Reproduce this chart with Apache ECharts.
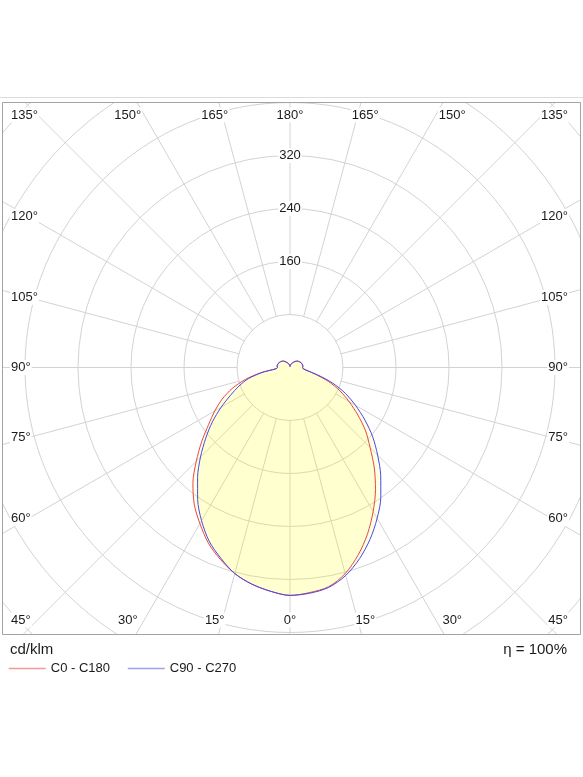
<!DOCTYPE html>
<html>
<head>
<meta charset="utf-8">
<script src="https://cdn.jsdelivr.net/npm/echarts@6/dist/echarts.min.js"></script>
<style>
html,body{margin:0;padding:0;background:#fff;}
#chart{width:583px;height:777px;}
</style>
</head>
<body>
<div id="chart"></div>
<script>
// gamma angles (degrees from nadir)
const gamma = [0,5,10,15,20,25,30,35,40,45,50,55,60,65,70,75,80,85,90,95,100,105,110,115,120,125,130,135,140,145,150,155,160,165,170,175,180];
// luminous intensity, cd/klm
const c0   = [344,341,336,322,301,277,251,225,198,171,149,125,103,83,62,40,26,20,19,19.5,19.5,19,18.5,18,17,16,15,13.5,12,10,8.5,7,6,5,3.5,2,1];
const c180 = [344,339,332,322,308,292,272,252,228,200,174,150,131,113,93,70,44,21,19,19.5,19.5,19,18.5,18,17,16,15,13.5,12,10,8.5,7,6,5,3.5,2,1];
const c90  = [344,342,337,325,307,286,263,239,213,187,163,138,114,92,68,43,26,20,19,19.5,19.5,19,18.5,18,17,16,15,13.5,12,10,8.5,7,6,5,3.5,2,1];
const c270 = [344,339,332,322,306,289,267,243,217,191,166,143,120,99,82,65,42,21,19,19.5,19.5,19,18.5,18,17,16,15,13.5,12,10,8.5,7,6,5,3.5,2,1];
const seriesNames = ['C0 - C180', 'C90 - C270'];
const radiusLabels = [160, 240, 320];
const angleTicks = [0,15,30,45,60,75,90,105,120,135,150,165,180];
const unitText = 'cd/klm';
const etaText = '\u03B7 = 100%';

const FONT = '"Liberation Sans", Arial, sans-serif';
const cx = 290, cy = 367.5, R_OUT = 424, R_IN = 53;

// right half: angle value = 180 - gamma ; left half: 180 + gamma (startAngle at top, clockwise)
function curve(right, left) {
  const pts = [];
  for (let i = gamma.length - 1; i >= 0; i--) pts.push([right[i], 180 - gamma[i]]);
  for (let i = 1; i < gamma.length; i++) pts.push([left[i], 180 + gamma[i]]);
  return pts;
}

// returns [x, y, align]
function labelPos(g, side) {
  const R = Math.PI / 180;
  const edgeX = side < 0 ? 10 : 569;
  const edgeAlign = side < 0 ? 'left' : 'right';
  if (g === 45 || g === 135) return [edgeX, g === 135 ? 115 : 620, edgeAlign];
  if (g > 135) return [cx + side * 281 * Math.tan((180 - g) * R), 115, 'center'];
  if (g < 45) return [cx + side * 281 * Math.tan(g * R), 620, 'center'];
  return [edgeX, cy - 262 * Math.tan((g - 90) * R), edgeAlign];
}

const graphics = [];
// blank disc at the centre (radial lines start at the first ring)
graphics.push({type:'circle', z:0.5, silent:true, shape:{cx:cx, cy:cy, r:R_IN - 0.5}, style:{fill:'#fff'}});
// white covers outside the frame
[[0,0,583,102],[0,635,583,142],[0,0,2,777],[581,0,2,777]].forEach(r => {
  graphics.push({type:'rect', z:99, silent:true, shape:{x:r[0],y:r[1],width:r[2],height:r[3]}, style:{fill:'#fff'}});
});
graphics.push({type:'rect', z:100, silent:true, shape:{x:2.5,y:102.5,width:578,height:532}, style:{fill:'none', stroke:'#a3a3a3', lineWidth:1}});
graphics.push({type:'line', z:100, silent:true, shape:{x1:0,y1:97.5,x2:583,y2:97.5}, style:{stroke:'#dcdcdc', lineWidth:1}});
angleTicks.forEach(g => {
  const sides = (g === 0 || g === 180) ? [1] : [-1, 1];
  sides.forEach(s => {
    const p = labelPos(g, s);
    graphics.push({type:'text', z:101, silent:true, x:p[0], y:p[1], style:{
      text: g + '\u00B0', fill:'#1a1a1a', font:'13px ' + FONT, align:p[2], verticalAlign:'middle',
      backgroundColor:'#fff', padding:[1,1]
    }});
  });
});
graphics.push({type:'text', z:101, silent:true, x:10, y:650, style:{text:unitText, fill:'#1a1a1a', font:'15px ' + FONT, align:'left', verticalAlign:'middle'}});
graphics.push({type:'text', z:101, silent:true, x:567, y:650, style:{text:etaText, fill:'#1a1a1a', font:'15px ' + FONT, align:'right', verticalAlign:'middle'}});

const chart = echarts.init(document.getElementById('chart'), null, {renderer:'canvas'});
chart.setOption({
  animation: false,
  backgroundColor: '#fff',
  polar: { center: [cx, cy], radius: [0, R_OUT] },
  angleAxis: {
    type: 'value', min: 0, max: 360, interval: 15, startAngle: 90, clockwise: true, z: 0,
    axisLine: {show:false}, axisTick: {show:false}, axisLabel: {show:false},
    splitLine: {show:true, lineStyle:{color:'#d3d3d3', width:1}}
  },
  radiusAxis: {
    type: 'value', min: 0, max: 640, interval: 80, z: 1,
    axisLine: {show:false}, axisTick: {show:false},
    axisLabel: {
      show: true, margin: 0, align: 'center', verticalAlign: 'middle',
      formatter: v => radiusLabels.indexOf(v) >= 0 ? '{b|' + v + '}' : '',
      rich: { b: { fontSize: 13, fontFamily: FONT, color: '#1a1a1a', backgroundColor: '#fff', padding: [1, 1] } }
    },
    splitLine: {show:true, lineStyle:{color:'#d3d3d3', width:1}}
  },
  legend: {
    z: 120, left: 3, top: 657, itemWidth: 37, itemHeight: 14, itemGap: 17,
    textStyle: {fontSize: 13, fontFamily: FONT, color: '#1a1a1a'},
    data: [
      {name: seriesNames[0], lineStyle: {color: '#f09a9a', width: 1.5}, itemStyle: {color: '#f09a9a', opacity: 0}},
      {name: seriesNames[1], lineStyle: {color: '#a0a0f0', width: 1.5}, itemStyle: {color: '#a0a0f0', opacity: 0}}
    ],
    selectedMode: false
  },
  graphic: graphics,
  series: [
    {
      name: seriesNames[0], type: 'line', coordinateSystem: 'polar', data: curve(c0, c180),
      symbol: 'none', smooth: 0.3, clip: false, z: 2,
      lineStyle: {color: '#ea4646', width: 1}, itemStyle: {color: '#ea4646'},
      areaStyle: {origin: 0, color: 'rgba(255,255,0,0.14)'}
    },
    {
      name: seriesNames[1], type: 'line', coordinateSystem: 'polar', data: curve(c90, c270),
      symbol: 'none', smooth: 0.3, clip: false, z: 2,
      lineStyle: {color: '#4848ea', width: 1}, itemStyle: {color: '#4848ea'},
      areaStyle: {origin: 0, color: 'rgba(255,255,0,0.14)'}
    }
  ]
});
</script>
</body>
</html>
